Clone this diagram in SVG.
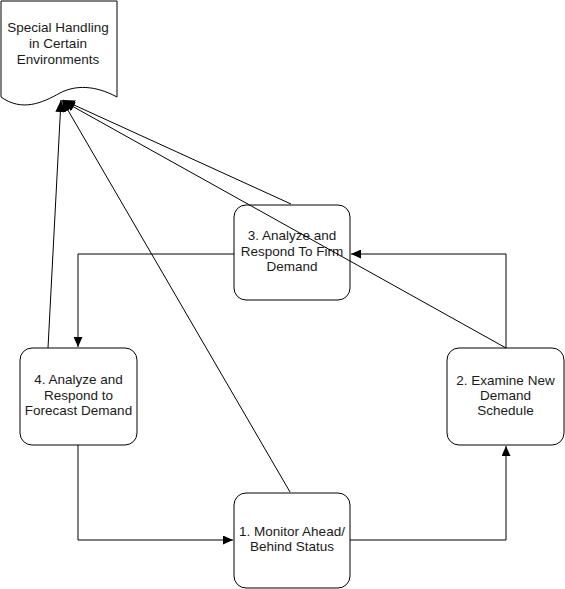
<svg xmlns="http://www.w3.org/2000/svg" width="565" height="589" viewBox="0 0 565 589">
<style>
.node{fill:#fff;stroke:#000;stroke-width:1}
.lbl{font-family:"Liberation Sans",Arial,sans-serif;font-size:13.5px;fill:#1a1a1a;text-anchor:middle}
.conn{fill:none;stroke:#000;stroke-width:1}
</style>
<defs>
<marker id="arr" markerWidth="11" markerHeight="9" refX="10" refY="4.5" orient="auto" markerUnits="userSpaceOnUse">
<path d="M0,0 L10,4.5 L0,9 Z" fill="#000"/>
</marker>
<marker id="arr2" markerWidth="13" markerHeight="10" refX="12" refY="5" orient="auto" markerUnits="userSpaceOnUse">
<path d="M0,0 L12,5 L0,10 Z" fill="#000"/>
</marker>
</defs>
<rect width="565" height="589" fill="#fff"/>
<g id="doc">
<path class="node" d="M1,1 H117 V97 C95,85 75,85 60,93 C42,103 22,112 1,97 Z"/>
<text class="lbl" x="58" y="32">Special Handling</text>
<text class="lbl" x="58" y="48">in Certain</text>
<text class="lbl" x="58" y="64">Environments</text>
</g>
<g id="n3">
<rect class="node" x="234" y="205" width="116" height="95" rx="12"/>
<text class="lbl" x="292" y="240">3. Analyze and</text>
<text class="lbl" x="292" y="256">Respond To Firm</text>
<text class="lbl" x="292" y="271">Demand</text>
</g>
<g id="n4">
<rect class="node" x="20" y="348" width="117" height="97" rx="12"/>
<text class="lbl" x="78.5" y="384">4. Analyze and</text>
<text class="lbl" x="78.5" y="399.5">Respond to</text>
<text class="lbl" x="78.5" y="415">Forecast Demand</text>
</g>
<g id="n2">
<rect class="node" x="447" y="348" width="117" height="97" rx="12"/>
<text class="lbl" x="505.5" y="385">2. Examine New</text>
<text class="lbl" x="505.5" y="400">Demand</text>
<text class="lbl" x="505.5" y="415">Schedule</text>
</g>
<g id="n1">
<rect class="node" x="234" y="493" width="116" height="95" rx="12"/>
<text class="lbl" x="292" y="535.5">1. Monitor Ahead/</text>
<text class="lbl" x="292" y="551">Behind Status</text>
</g>
<g id="connectors">
<path class="conn" d="M78,445 V540 H233" marker-end="url(#arr)"/>
<path class="conn" d="M350,540 H506 V446" marker-end="url(#arr)"/>
<path class="conn" d="M506,348 V254 H351" marker-end="url(#arr)"/>
<path class="conn" d="M234,254 H78 V347" marker-end="url(#arr)"/>
<path class="conn" d="M48,348 L61,100" marker-end="url(#arr2)"/>
<path class="conn" d="M290,492 L62,100" marker-end="url(#arr2)"/>
<path class="conn" d="M291,204 L63,100" marker-end="url(#arr2)"/>
<path class="conn" d="M506,348 L63,101" marker-end="url(#arr2)"/>
</g>
</svg>
